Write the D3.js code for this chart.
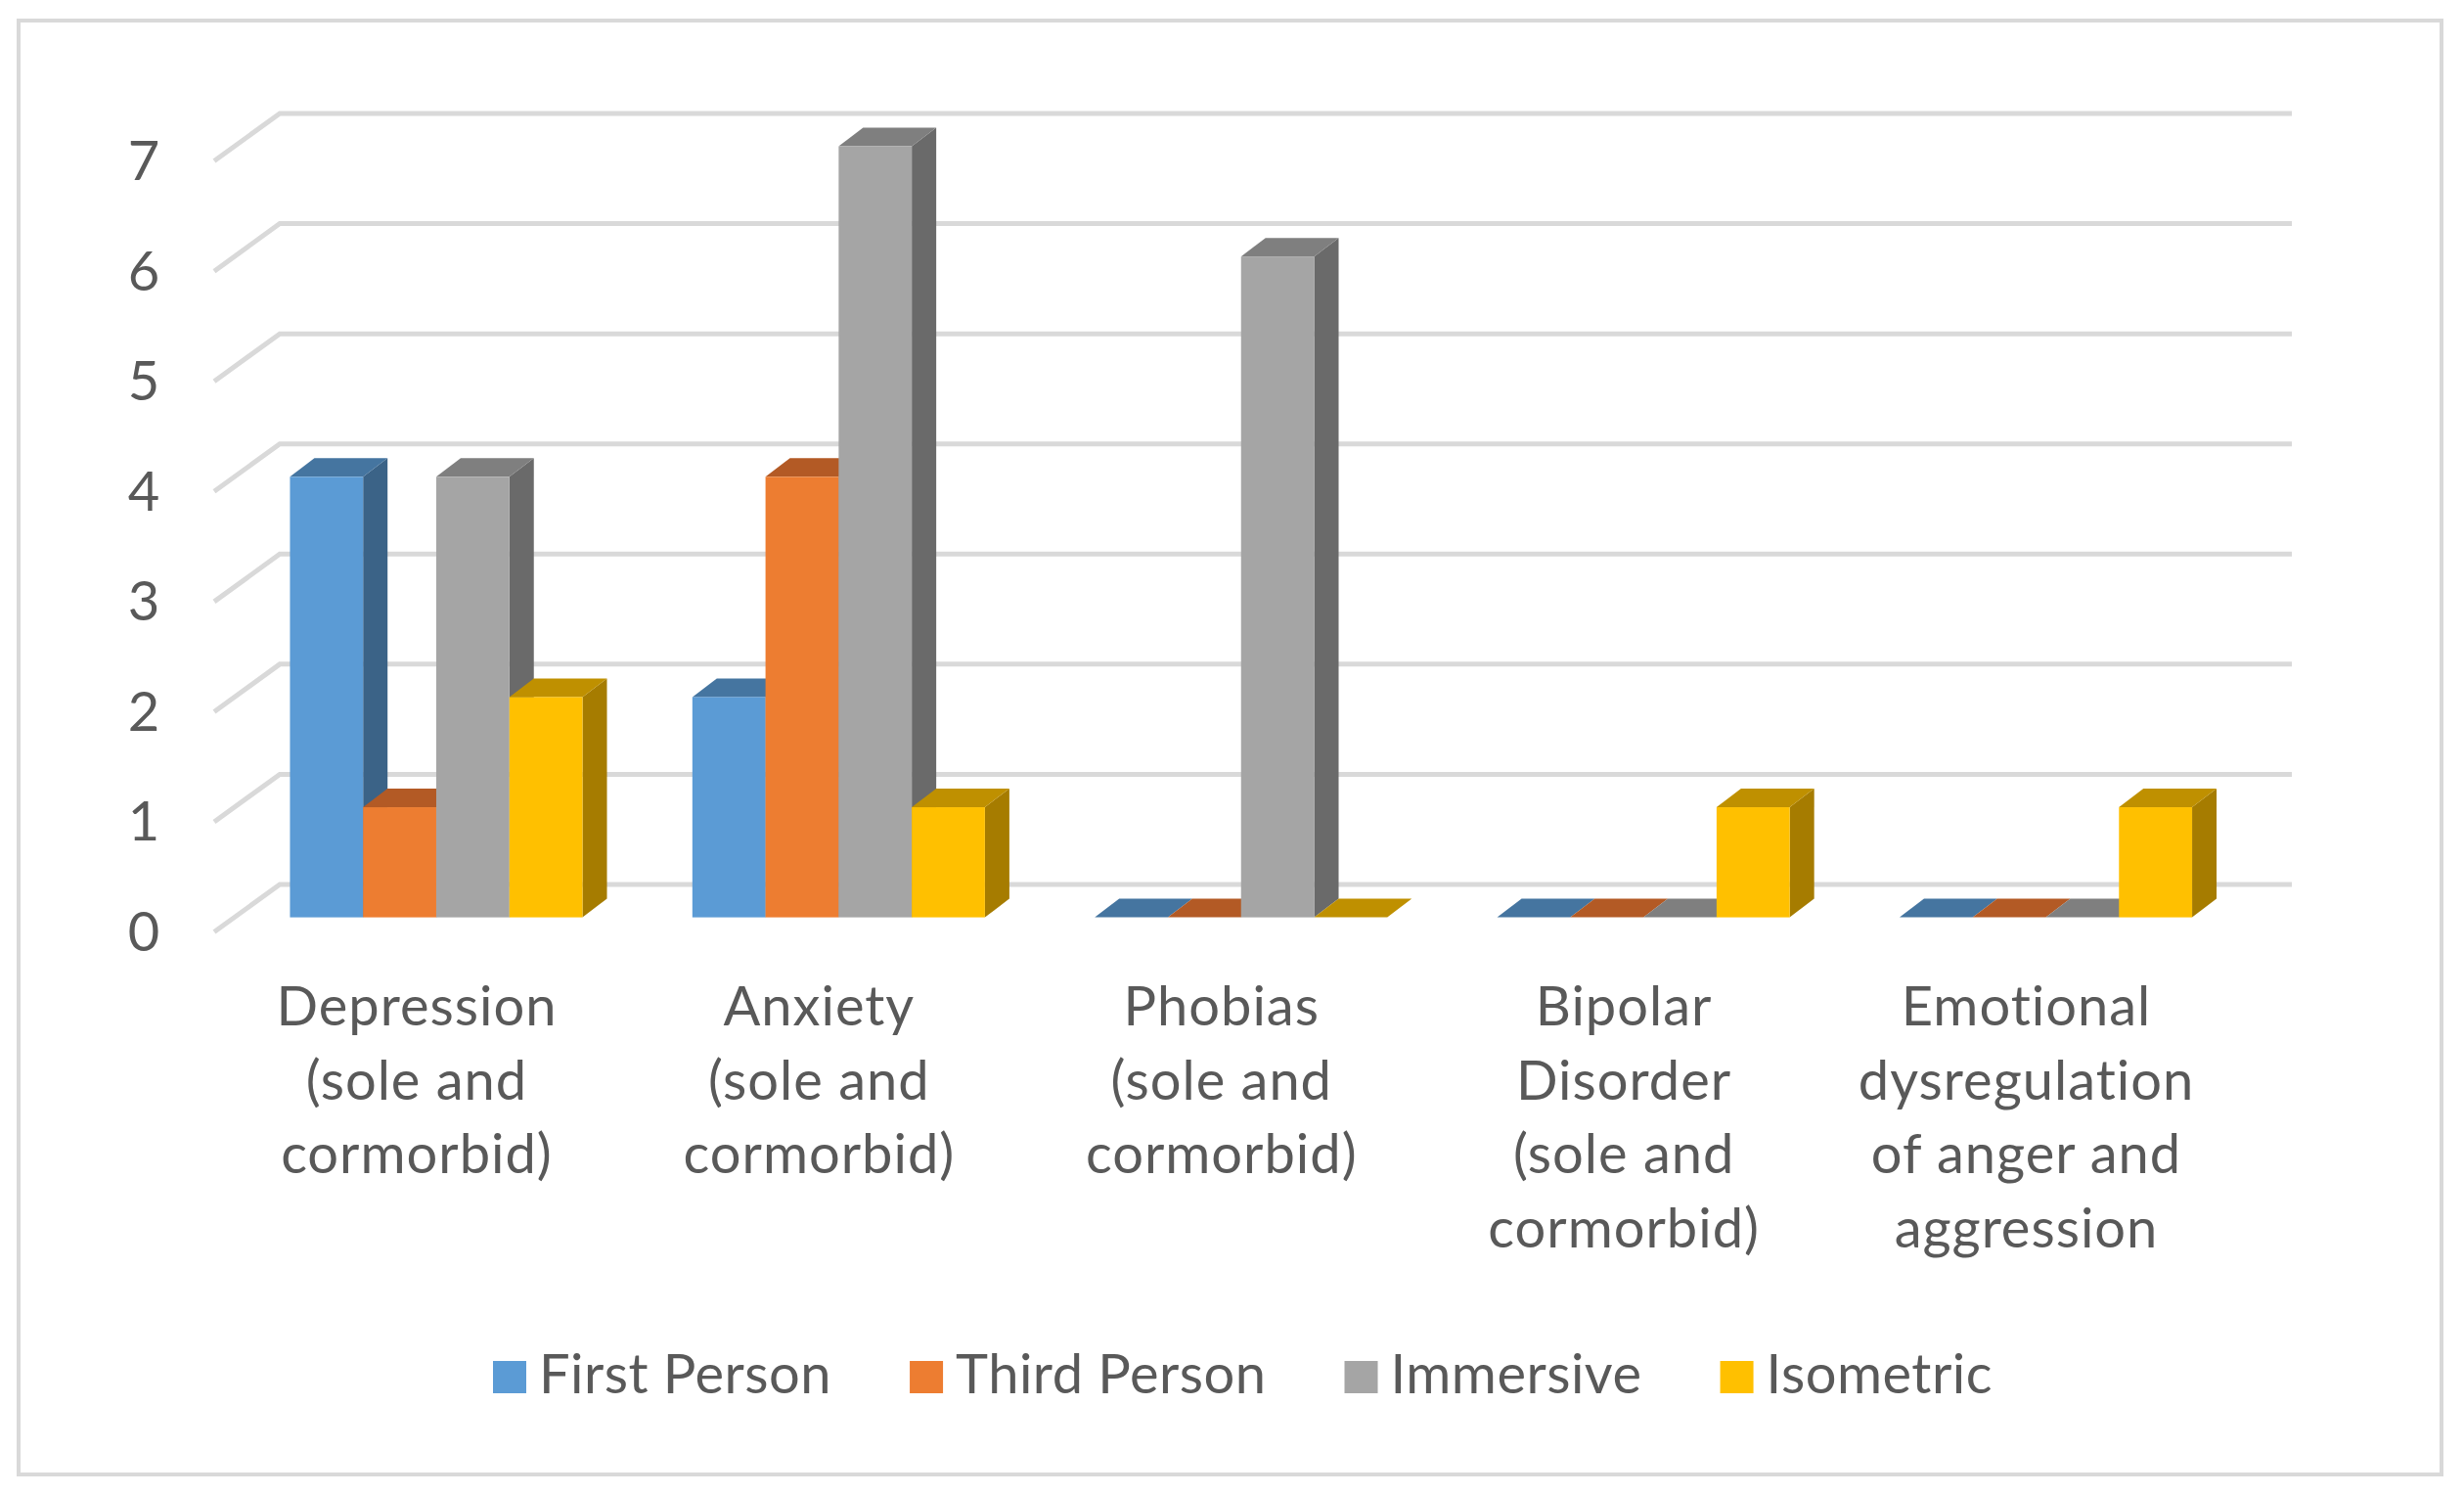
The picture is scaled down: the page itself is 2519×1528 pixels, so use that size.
<!DOCTYPE html>
<html>
<head>
<meta charset="utf-8">
<script src="https://cdn.jsdelivr.net/npm/d3@7"></script>
<style>
    html, body { margin: 0; padding: 0; background: #fff; }
    svg { display: block; }
    text { font-family: Lato, sans-serif; fill: #595959; }
</style>
</head>
<body>
<div id="chart"></div>
<script>
const categories = ['Depression', 'Anxiety', 'Phobias', 'Bipolar', 'Emotional'];
const categoryLines = [
    ['Depression', '(sole and', 'cormorbid)'],
    ['Anxiety', '(sole and', 'cormorbid)'],
    ['Phobias', '(sole and', 'cormorbid)'],
    ['Bipolar', 'Disorder', '(sole and', 'cormorbid)'],
    ['Emotional', 'dysregulation', 'of anger and', 'aggression']
];
const seriesNames = ['First Person', 'Third Person', 'Immersive', 'Isometric'];
const firstPerson = [4, 2, 0, 0, 0];
const thirdPerson = [1, 4, 0, 0, 0];
const immersive = [4, 7, 6, 0, 0];
const isometric = [2, 1, 0, 1, 1];
const yTicks = [0, 1, 2, 3, 4, 5, 6, 7];
const frontColors = ['#5b9bd5', '#ed7d31', '#a5a5a5', '#ffc000'];
const topColors = ['#4575a0', '#b35a25', '#7f7f7f', '#bf9000'];
const sideColors = ['#3b6387', '#8f4a1e', '#6a6a6a', '#a67c00'];

const seriesValues = [firstPerson, thirdPerson, immersive, isometric];
const width = 2519;
const height = 1528;
const fontSize = 56;

// depth of the 3d effect
const barDx = 25, barDy = 19;
const wallDx = 67, wallBackDy = 33.6, wallFrontDy = 15;

const svg = d3.select('#chart')
    .append('svg')
    .attr('width', width)
    .attr('height', height);

svg.append('rect')
    .attr('x', 19).attr('y', 21)
    .attr('width', 2477).attr('height', 1486)
    .attr('fill', '#fff')
    .attr('stroke', '#d9d9d9')
    .attr('stroke-width', 4);

const y = d3.scaleLinear().domain([0, 7]).range([937.6, 149.6]);

const x0 = d3.scaleBand()
    .domain(categories)
    .range([219, 2276])
    .paddingInner(0.273)
    .paddingOuter(0.1366)
    .align(0.689);

const x1 = d3.scaleBand()
    .domain(seriesNames)
    .range([0, x0.bandwidth()]);

// gridlines, floor running back from the front edge
svg.append('g')
    .selectAll('path')
    .data(yTicks)
    .enter()
    .append('path')
    .attr('d', d => {
        const path = d3.path();
        path.moveTo(219, y(d) + wallFrontDy);
        path.lineTo(219 + wallDx, y(d) - wallBackDy);
        path.lineTo(2343, y(d) - wallBackDy);
        return path.toString();
    })
    .attr('fill', 'none')
    .attr('stroke', '#d9d9d9')
    .attr('stroke-width', 5);

// bars, one group per category, painted left to right
const bars = svg.append('g');
categories.forEach((cat, c) => {
    seriesNames.forEach((name, s) => {
        const v = seriesValues[s][c];
        const left = x0(cat) + x1(name);
        const right = left + x1.bandwidth();
        const top = y(v);
        const bottom = y(0);

        bars.append('polygon')
            .attr('points', [[right, top], [right + barDx, top - barDy], [right + barDx, bottom - barDy], [right, bottom]].join(' '))
            .attr('fill', sideColors[s]);
        bars.append('polygon')
            .attr('points', [[left, top], [left + barDx, top - barDy], [right + barDx, top - barDy], [right, top]].join(' '))
            .attr('fill', topColors[s]);
        bars.append('rect')
            .attr('x', left)
            .attr('y', top)
            .attr('width', x1.bandwidth())
            .attr('height', bottom - top)
            .attr('fill', frontColors[s]);
    });
});

// y axis labels
const yAxis = d3.axisLeft(y).tickValues(yTicks).tickSize(0).tickFormat(d3.format('d'));
const yG = svg.append('g')
    .attr('transform', `translate(147, ${wallFrontDy + 1})`)
    .call(yAxis);
yG.select('.domain').remove();
yG.selectAll('text')
    .attr('x', 0)
    .attr('text-anchor', 'middle')
    .attr('font-size', fontSize);

// category labels, wrapped by hand as in the original
const xAxis = d3.axisBottom(x0).tickSize(0).tickFormat('');
const xG = svg.append('g')
    .attr('transform', 'translate(-20, 1010)')
    .call(xAxis);
xG.select('.domain').remove();
xG.selectAll('.tick text')
    .attr('font-size', fontSize)
    .attr('letter-spacing', 1)
    .attr('y', 0)
    .attr('dy', 0)
    .each(function(d, i) {
        const label = d3.select(this);
        categoryLines[i].forEach((line, k) => {
            label.append('tspan')
                .attr('x', 0)
                .attr('y', 38 + k * 75.5)
                .text(line);
        });
    });

// legend, laid out from the measured text widths
const legend = svg.append('g').attr('transform', 'translate(504, 1391)');
let cursor = 0;
seriesNames.forEach((name, s) => {
    legend.append('rect')
        .attr('x', cursor)
        .attr('y', 0)
        .attr('width', 34)
        .attr('height', 33)
        .attr('fill', frontColors[s]);
    const label = legend.append('text')
        .attr('x', cursor + 47)
        .attr('y', 33)
        .attr('font-size', fontSize)
        .attr('letter-spacing', 0.5)
        .text(name);
    cursor += 47 + label.node().getComputedTextLength() + 80;
});
</script>
</body>
</html>
